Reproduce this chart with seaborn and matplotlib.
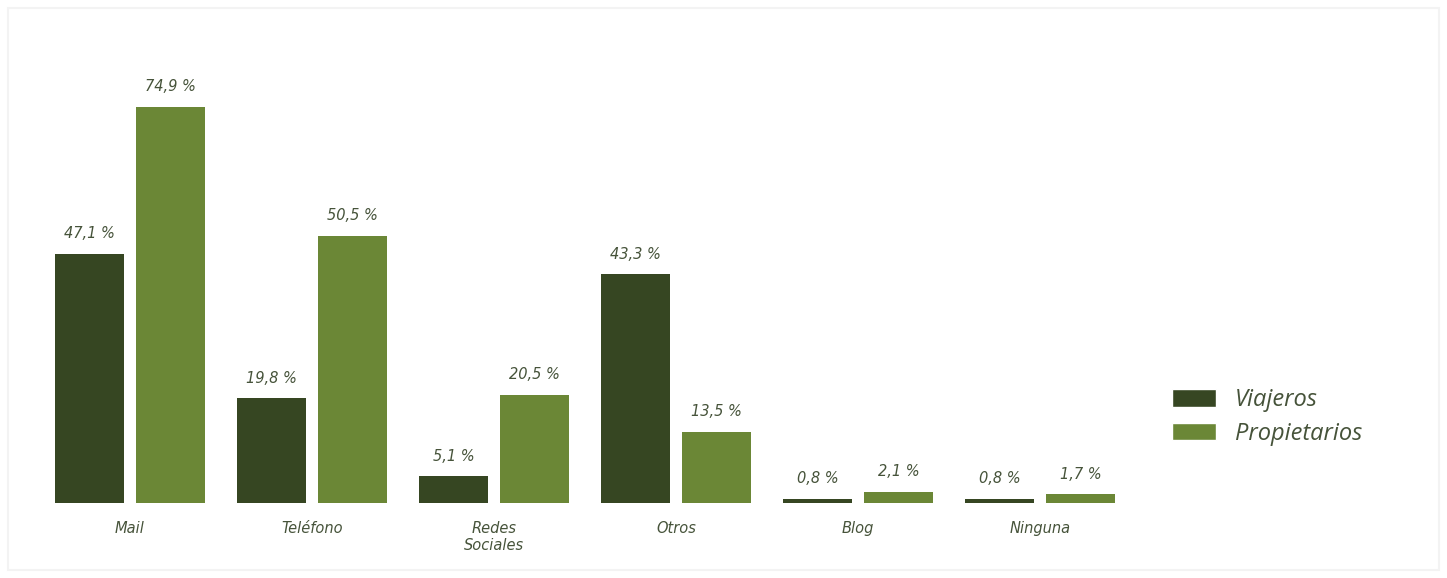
import matplotlib
matplotlib.use("Agg")
import matplotlib.pyplot as plt
import seaborn as sns
import pandas as pd
from matplotlib.patches import Rectangle

categories = ["Mail", "Teléfono", "Redes\nSociales", "Otros", "Blog", "Ninguna"]
viajeros = [47.1, 19.8, 5.1, 43.3, 0.8, 0.8]
propietarios = [74.9, 50.5, 20.5, 13.5, 2.1, 1.7]
series_names = ["Viajeros", "Propietarios"]
colors = ["#364622", "#6b8736"]
text_color = "#46533a"

df = pd.DataFrame({
    "cat": categories * 2,
    "val": viajeros + propietarios,
    "serie": [series_names[0]] * len(categories) + [series_names[1]] * len(categories),
})

sns.set_style("white")
plt.rcParams['font.family'] = ['DejaVu Sans']

W, H = 1447, 578
fig = plt.figure(figsize=(W / 100, H / 100), dpi=100)
ax = fig.add_axes([39 / W, 75 / H, 1092 / W, 423 / H])

sns.barplot(data=df, x="cat", y="val", hue="serie", palette=colors,
            width=0.89, gap=0.16, ax=ax, legend=False, saturation=1,
            linewidth=0)
ax.set_xlim(-0.5, 5.5)
ax.set_ylim(0, 80)

for cont, vals in zip(ax.containers, [viajeros, propietarios]):
    labels = [f"{v:.1f}".replace(".", ",") + " %" for v in vals]
    ax.bar_label(cont, labels=labels, padding=9, fontsize=10.5, style="italic",
                 color=text_color)

for s in ax.spines.values():
    s.set_visible(False)
ax.set_yticks([])
ax.set_xlabel("")
ax.set_ylabel("")
ax.tick_params(axis="x", length=0, pad=13)
for lbl in ax.get_xticklabels():
    lbl.set_fontstyle("italic")
    lbl.set_fontsize(10.5)
    lbl.set_color(text_color)
    lbl.set_linespacing(1.2)
    lbl.set_verticalalignment("top")

handles = [Rectangle((0, 0), 1, 1, facecolor=c) for c in colors]
leg = fig.legend(handles, series_names, loc="center left",
                 bbox_to_anchor=(1151 / W, 1 - 417 / H), frameon=False,
                 prop={"size": 17, "style": "italic", "family": "Open Sans"},
                 handlelength=1.85, handleheight=0.75, labelspacing=0.4,
                 handletextpad=0.8)
for t in leg.get_texts():
    t.set_color(text_color)

fig.patches.append(Rectangle((8 / W, 8 / H), (W - 16) / W, (H - 16) / H,
                             transform=fig.transFigure, fill=False,
                             edgecolor="#f3f3f3", linewidth=1.5))

fig.savefig("out.png", dpi=100, facecolor="white")
